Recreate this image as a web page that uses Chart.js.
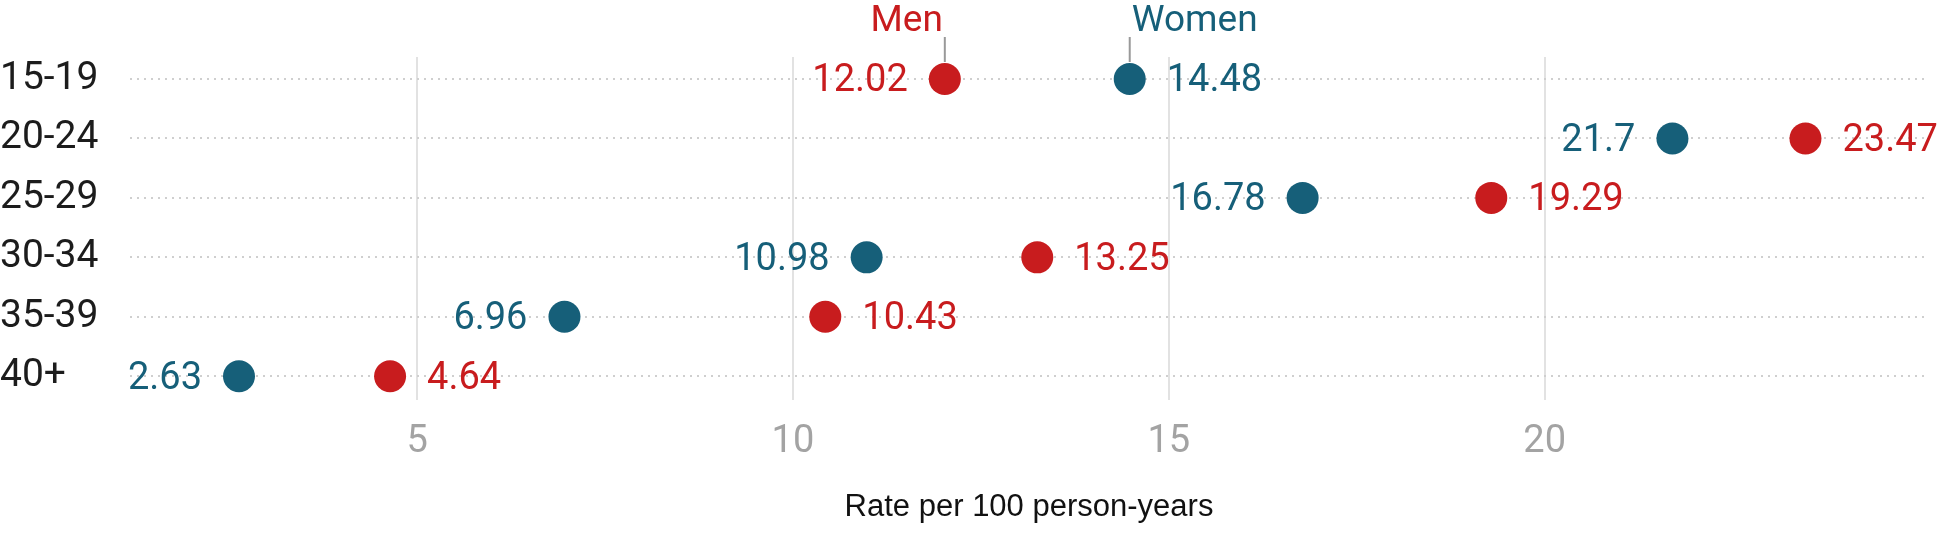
<!DOCTYPE html>
<html>
<head>
<meta charset="utf-8">
<script src="https://cdn.jsdelivr.net/npm/chart.js@4"></script>
<style>
    html, body { margin: 0; padding: 0; background: #fff; }
    #wrap { width: 1944px; height: 533px; }
</style>
</head>
<body>
<div id="wrap"><canvas id="chart"></canvas></div>
<script>
Chart.defaults.font.family = 'Roboto';
Chart.defaults.font.size = 38;

const ageGroups = ['15-19', '20-24', '25-29', '30-34', '35-39', '40+'];
const menRates = [12.02, 23.47, 19.29, 13.25, 10.43, 4.64];
const womenRates = [14.48, 21.7, 16.78, 10.98, 6.96, 2.63];
const xTicks = [5, 10, 15, 20];

const RED = '#c81c1e';
const BLUE = '#165f79';

function toPoints(values) {
    return values.map((v, i) => ({ x: v, y: i }));
}

// value labels next to each dot, lower value of the pair goes on the left
const valueLabels = {
    id: 'valueLabels',
    afterDatasetsDraw(chart) {
        const ctx = chart.ctx;
        const sets = chart.data.datasets;
        ctx.save();
        ctx.font = '38px Roboto';
        ctx.textBaseline = 'middle';
        sets.forEach((ds, di) => {
            const other = sets[1 - di];
            chart.getDatasetMeta(di).data.forEach((pt, i) => {
                const v = ds.data[i].x;
                const onLeft = v < other.data[i].x;
                ctx.fillStyle = ds.backgroundColor;
                ctx.textAlign = onLeft ? 'right' : 'left';
                ctx.fillText(String(v), pt.x + (onLeft ? -37 : 37), pt.y + 3);
            });
        });

        // series names above the first row
        ctx.font = '37px Roboto';
        ctx.textBaseline = 'alphabetic';
        ctx.strokeStyle = '#999';
        ctx.lineWidth = 2;
        sets.forEach((ds, di) => {
            const pt = chart.getDatasetMeta(di).data[0];
            const onLeft = ds.data[0].x < sets[1 - di].data[0].x;
            ctx.fillStyle = ds.backgroundColor;
            ctx.textAlign = onLeft ? 'right' : 'left';
            ctx.fillText(ds.label, pt.x + (onLeft ? -2 : 2), 31);
            ctx.beginPath();
            ctx.moveTo(pt.x, 37);
            ctx.lineTo(pt.x, pt.y - 17);
            ctx.stroke();
        });
        ctx.restore();
    }
};

new Chart(document.getElementById('chart'), {
    type: 'scatter',
    data: {
        datasets: [
            {
                label: 'Men',
                data: toPoints(menRates),
                backgroundColor: RED,
                borderWidth: 0,
                pointRadius: 16,
                pointHoverRadius: 16
            },
            {
                label: 'Women',
                data: toPoints(womenRates),
                backgroundColor: BLUE,
                borderWidth: 0,
                pointRadius: 16,
                pointHoverRadius: 16
            }
        ]
    },
    options: {
        responsive: true,
        maintainAspectRatio: false,
        animation: false,
        layout: {
            padding: { top: 57, right: 4, bottom: 3, left: 0 }
        },
        plugins: {
            legend: { display: false },
            tooltip: { enabled: false }
        },
        scales: {
            x: {
                type: 'linear',
                min: 1.18,
                max: 25.1,
                afterBuildTicks: scale => {
                    scale.ticks = xTicks.map(v => ({ value: v }));
                },
                afterFit: scale => { scale.height = 130; },
                grid: {
                    color: '#e2e2e2',
                    lineWidth: 2,
                    drawTicks: false
                },
                border: { display: false },
                ticks: {
                    color: '#a3a3a3',
                    padding: 20,
                    font: { size: 38 }
                },
                title: {
                    display: true,
                    text: 'Rate per 100 person-years',
                    color: '#111',
                    padding: { top: 4, bottom: 4 },
                    font: { family: 'Liberation Sans', size: 31 }
                }
            },
            y: {
                type: 'linear',
                reverse: true,
                min: -0.37,
                max: 5.4,
                afterBuildTicks: scale => {
                    scale.ticks = ageGroups.map((_, i) => ({ value: i }));
                },
                afterFit: scale => { scale.width = 130; },
                grid: {
                    color: '#cfcfcf',
                    lineWidth: 2,
                    drawTicks: false
                },
                border: { display: false, dash: [2, 5] },
                ticks: {
                    color: '#1c1c1c',
                    crossAlign: 'far',
                    padding: 0,
                    font: { size: 39 },
                    callback: value => ageGroups[value] ?? ''
                }
            }
        }
    },
    plugins: [valueLabels]
});
</script>
</body>
</html>
